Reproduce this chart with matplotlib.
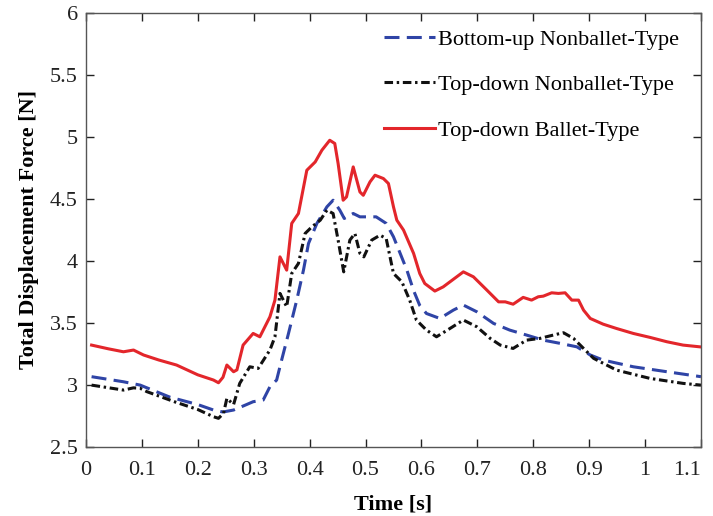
import matplotlib
matplotlib.use("Agg")
import matplotlib.pyplot as plt

plt.rcParams['font.family'] = ['Liberation Serif', 'DejaVu Serif']

# Bottom-up nonballet-type
t_bu = [0.01, 0.067, 0.097, 0.15, 0.20, 0.228, 0.245, 0.264, 0.282, 0.299, 0.317,
        0.329, 0.341, 0.350, 0.362, 0.377, 0.389, 0.398, 0.413, 0.431, 0.442, 0.454,
        0.462, 0.478, 0.490, 0.502, 0.519, 0.537, 0.550, 0.562, 0.574, 0.586, 0.597,
        0.609, 0.633, 0.657, 0.675, 0.699, 0.729, 0.758, 0.788, 0.818, 0.848, 0.878,
        0.902, 0.925, 0.979, 1.039, 1.10]
f_bu = [3.065, 3.024, 2.997, 2.90, 2.84, 2.796, 2.78, 2.796, 2.83, 2.863, 2.877,
        2.984, 3.038, 3.20, 3.41, 3.683, 3.925, 4.140, 4.302, 4.436, 4.489, 4.409,
        4.342, 4.382, 4.355, 4.355, 4.355, 4.302, 4.194, 4.060, 3.925, 3.76, 3.64,
        3.575, 3.535, 3.602, 3.643, 3.589, 3.495, 3.441, 3.401, 3.360, 3.334, 3.306,
        3.240, 3.199, 3.145, 3.105, 3.065]

# Top-down nonballet-type
t_td = [0.01, 0.067, 0.085, 0.097, 0.109, 0.16, 0.20, 0.228, 0.237, 0.246, 0.252,
        0.264, 0.275, 0.293, 0.308, 0.329, 0.338, 0.347, 0.359, 0.368, 0.380, 0.392,
        0.404, 0.419, 0.431, 0.442, 0.451, 0.461, 0.472, 0.481, 0.490, 0.497, 0.511,
        0.526, 0.537, 0.550, 0.565, 0.579, 0.591, 0.609, 0.627, 0.651, 0.675, 0.699,
        0.723, 0.741, 0.764, 0.788, 0.812, 0.836, 0.854, 0.872, 0.890, 0.908, 0.949,
        1.009, 1.068, 1.10]
f_td = [2.997, 2.957, 2.975, 2.971, 2.944, 2.86, 2.80, 2.742, 2.729, 2.769, 2.890,
        2.840, 3.011, 3.145, 3.132, 3.280, 3.387, 3.737, 3.629, 3.898, 3.979, 4.221,
        4.274, 4.328, 4.409, 4.382, 4.167, 3.911, 4.167, 4.221, 4.060, 4.032, 4.167,
        4.207, 4.180, 3.898, 3.831, 3.683, 3.522, 3.441, 3.387, 3.454, 3.522, 3.468,
        3.374, 3.320, 3.293, 3.360, 3.374, 3.401, 3.420, 3.374, 3.293, 3.213, 3.118,
        3.051, 3.011, 2.997]

# Top-down ballet-type
t_tb = [0.01, 0.04, 0.067, 0.085, 0.103, 0.13, 0.162, 0.20, 0.228, 0.237, 0.245,
        0.252, 0.264, 0.27, 0.281, 0.299, 0.311, 0.329, 0.338, 0.347, 0.359, 0.368,
        0.380, 0.395, 0.410, 0.422, 0.436, 0.445, 0.451, 0.460, 0.466, 0.478, 0.490,
        0.496, 0.508, 0.517, 0.532, 0.541, 0.550, 0.556, 0.568, 0.586, 0.597, 0.606,
        0.624, 0.639, 0.675, 0.693, 0.717, 0.738, 0.750, 0.764, 0.782, 0.797, 0.809,
        0.818, 0.833, 0.845, 0.857, 0.869, 0.881, 0.890, 0.902, 0.925, 0.949, 0.979,
        1.009, 1.039, 1.068, 1.10]
f_tb = [3.32, 3.29, 3.266, 3.28, 3.24, 3.20, 3.159, 3.08, 3.038, 3.016, 3.06,
        3.159, 3.105, 3.12, 3.32, 3.414, 3.387, 3.548, 3.683, 4.032, 3.925, 4.302,
        4.382, 4.731, 4.798, 4.893, 4.973, 4.947, 4.785, 4.489, 4.516, 4.758, 4.556,
        4.529, 4.637, 4.691, 4.664, 4.624, 4.436, 4.328, 4.248, 4.060, 3.898, 3.817,
        3.756, 3.790, 3.911, 3.871, 3.764, 3.669, 3.669, 3.650, 3.705, 3.683, 3.710,
        3.715, 3.742, 3.737, 3.742, 3.683, 3.683, 3.602, 3.535, 3.489, 3.454, 3.414,
        3.382, 3.347, 3.320, 3.305]

labels = ["Bottom-up Nonballet-Type", "Top-down Nonballet-Type", "Top-down Ballet-Type"]
x_ticks = [0, 0.1, 0.2, 0.3, 0.4, 0.5, 0.6, 0.7, 0.8, 0.9, 1.0, 1.1]
x_ticklabels = ["0", "0.1", "0.2", "0.3", "0.4", "0.5", "0.6", "0.7", "0.8", "0.9", "1", "1.1"]
y_ticks = [2.5, 3, 3.5, 4, 4.5, 5, 5.5, 6]
y_ticklabels = ["2.5", "3", "3.5", "4", "4.5", "5", "5.5", "6"]

fig = plt.figure(figsize=(7.13, 5.16), dpi=100)
ax = fig.add_axes([0.1206, 0.1343, 0.8625, 0.8405])

ax.plot(t_bu, f_bu, color="#2f44a6", lw=2.2, linestyle=(0, (4.9, 2.4)), label=labels[0])
ax.plot(t_td, f_td, color="#111111", lw=2.2, linestyle=(0, (2.8, 1.2, 0.8, 1.2)), label=labels[1])
ax.plot(t_tb, f_tb, color="#e3262b", lw=2.2, linestyle="-", label=labels[2])

ax.set_xlim(0, 1.1)
ax.set_ylim(2.5, 6)
ax.set_xticks(x_ticks)
ax.set_xticklabels(x_ticklabels)
ax.set_yticks(y_ticks)
ax.set_yticklabels(y_ticklabels)
ax.tick_params(direction="in", top=True, right=True, length=6, width=1,
               labelsize=16, colors="#222222")
ax.tick_params(axis="x", pad=10)
ax.tick_params(axis="y", pad=6)
ax.get_xticklabels()[-1].set_horizontalalignment("right")
for s in ax.spines.values():
    s.set_color("#555555")
    s.set_linewidth(1.0)

ax.set_xlabel("Time [s]", fontsize=16, fontweight="bold", labelpad=11)
ax.set_ylabel("Total Displacement Force [N]", fontsize=16, fontweight="bold", labelpad=8)

leg = ax.legend(loc="upper left", bbox_to_anchor=(0.484, 0.963), frameon=False,
                fontsize=16, handlelength=2.3, handletextpad=0.15,
                labelspacing=1.13, borderpad=0, borderaxespad=0)

fig.savefig("out.png", dpi=100)
